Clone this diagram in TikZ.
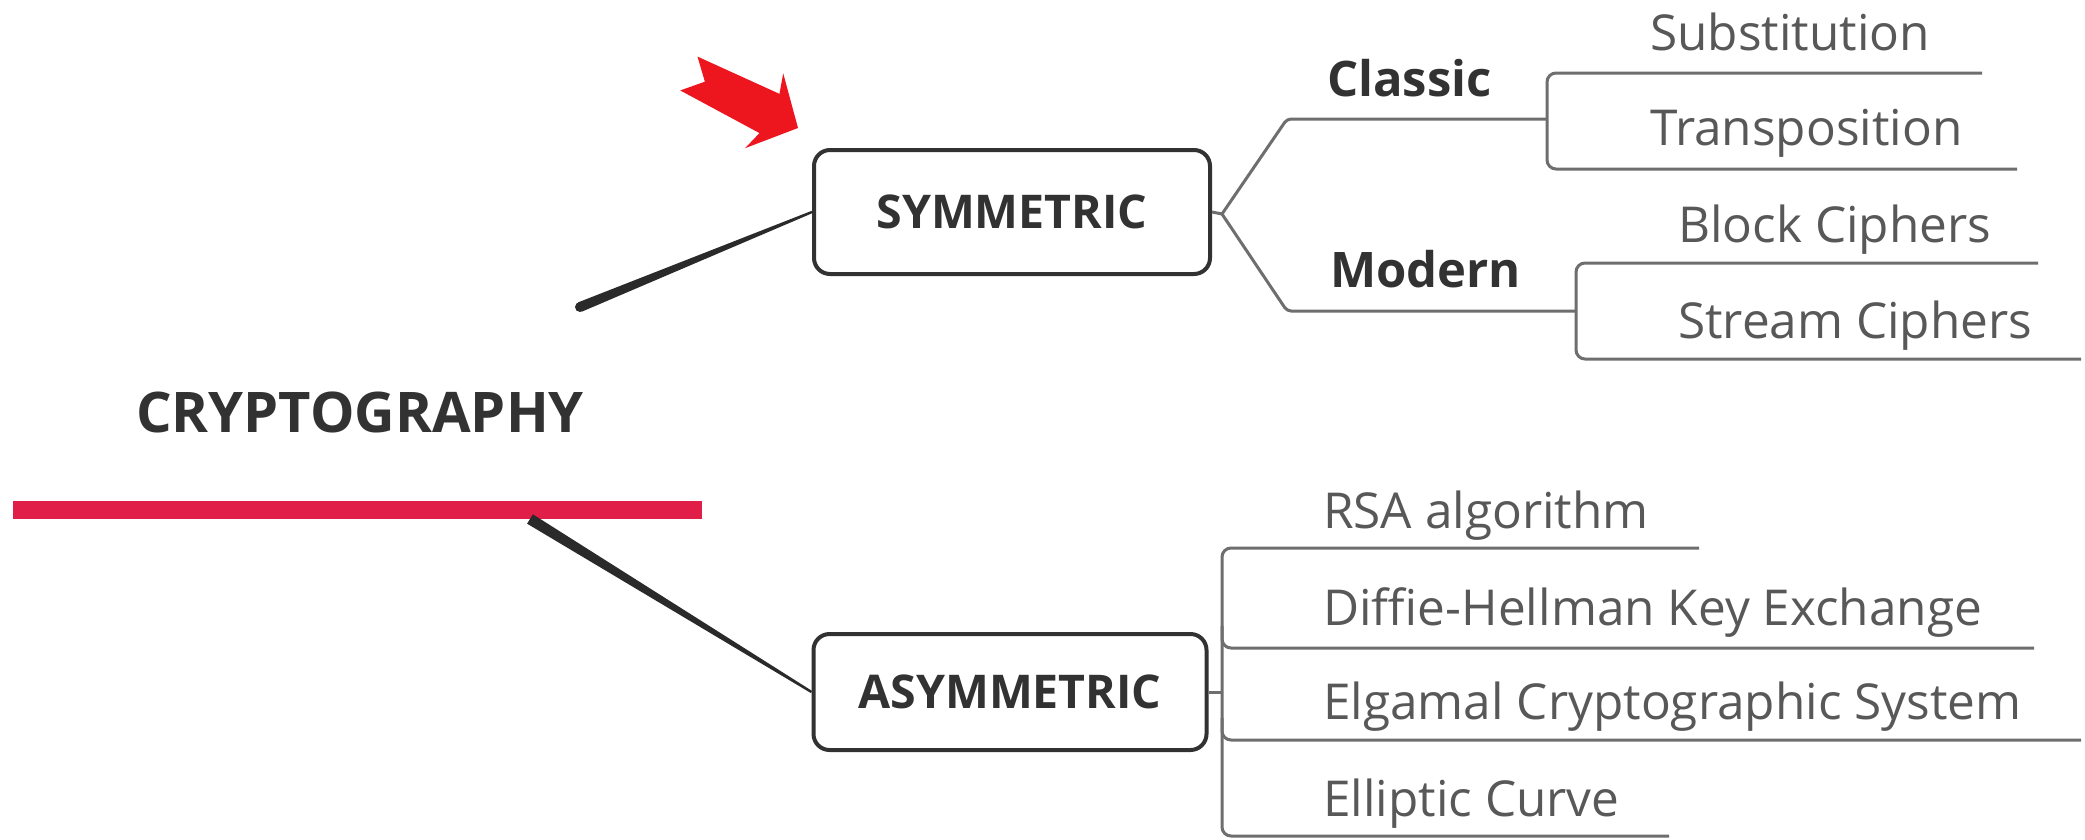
\documentclass[tikz,border=0pt]{standalone}
\usepackage{fontspec}
\setmainfont{Open Sans}
\usetikzlibrary{calc}
\definecolor{barred}{RGB}{224,30,72}
\definecolor{arrowred}{RGB}{238,22,30}
\definecolor{ink}{RGB}{50,50,50}
\definecolor{branchgray}{RGB}{110,110,110}
\definecolor{leafgray}{RGB}{88,88,88}
\begin{document}
\begin{tikzpicture}[x=1pt,y=-1pt,
  topicbox/.style={draw=ink, line width=4pt, rounded corners=16pt, fill=white,
    text=ink, font=\fontsize{46.5}{50}\selectfont\bfseries, inner sep=0pt},
  sublabel/.style={anchor=base west, inner sep=0pt, text=ink,
    font=\fontsize{49}{56}\selectfont\bfseries},
  leaf/.style={anchor=base west, inner sep=0pt, text=leafgray,
    font=\fontsize{49.5}{56}\selectfont},
  branch/.style={draw=branchgray, line width=3pt, rounded corners=9pt},
  taper/.style={fill=ink!85!black}]
\useasboundingbox (0,0) rectangle (2085,839);
\fill[white] (0,0) rectangle (2085,839);

% central topic with its red underline
\node[anchor=base, inner sep=0pt, text=ink, font=\fontsize{56}{60}\selectfont\bfseries]
  (root) at (360,432) {CRYPTOGRAPHY};
\node[fill=barred, minimum width=689pt, minimum height=18pt, inner sep=0pt,
  anchor=north west] (bar) at (13,501) {};

% main topics
\node[topicbox, minimum width=396pt, minimum height=124pt] (sym) at (1012,212) {SYMMETRIC};
\node[topicbox, minimum width=393pt, minimum height=116pt] (asym) at (1010,692) {ASYMMETRIC};

% tapered connectors from the central topic
\coordinate (symFoot) at (580,307);
\coordinate (asymFoot) at (530,519);
\fill[taper] ($(symFoot)!5pt!90:(sym.west)$) -- ($(sym.west)!1.2pt!-90:(symFoot)$)
  -- ($(sym.west)!1.2pt!90:(symFoot)$) -- ($(symFoot)!5pt!-90:(sym.west)$) -- cycle;
\fill[taper] (symFoot) circle (5pt);
\fill[taper] ($(asymFoot)!5.5pt!90:(asym.west)$) -- ($(asym.west)!1.2pt!-90:(asymFoot)$)
  -- ($(asym.west)!1.2pt!90:(asymFoot)$) -- ($(asymFoot)!5.5pt!-90:(asym.west)$) -- cycle;

% red pointer arrow
\begin{scope}[shift={(798,128)}, rotate=-27]
  \fill[arrowred] (0,0) -- (-38,-42) -- (-32,-22) -- (-122,-18) -- (-104,1)
    -- (-122,20) -- (-32,22) -- (-38,42) -- cycle;
\end{scope}

% symmetric subtree
\coordinate (symJ) at (1222,214);
\coordinate (classicL) at (1287,119);
\coordinate (classicR) at (1547,119);
\coordinate (modernL) at (1287,311);
\coordinate (modernR) at (1576,311);
\draw[branch] (sym.east) -- (symJ);
\draw[branch, rounded corners=4pt] (symJ) -- (classicL) -- (classicR);
\draw[branch, rounded corners=4pt] (symJ) -- (modernL) -- (modernR);
\node[sublabel] (classic) at (1327,96) {Classic};
\node[sublabel] (modern) at (1330,287) {Modern};

\draw[branch] (1982,73) -- (1547,73) -- (1547,169) -- (2017,169);
\node[leaf] (subst) at (1650,50) {Substitution};
\node[leaf] (transp) at (1650,145) {Transposition};

\draw[branch] (2038,263) -- (1576,263) -- (1576,359) -- (2081,359);
\node[leaf] (block) at (1678,242) {Block Ciphers};
\node[leaf] (stream) at (1678,338) {Stream Ciphers};

% asymmetric subtree
\coordinate (asymJ) at (1222,692);
\draw[branch] (asym.east) -- (asymJ);
\draw[branch] (1699,548) -- (1222,548) -- (1222,836) -- (1669,836);
\draw[branch] (1222,626) -- (1222,648) -- (2034,648);
\draw[branch] (1222,718) -- (1222,740) -- (2081,740);
\node[leaf] (rsa) at (1323,528) {RSA algorithm};
\node[leaf] (dh) at (1323,625) {Diffie-Hellman Key Exchange};
\node[leaf] (elg) at (1323,719) {Elgamal Cryptographic System};
\node[leaf] (ecc) at (1323,816) {Elliptic Curve};
\end{tikzpicture}
\end{document}
